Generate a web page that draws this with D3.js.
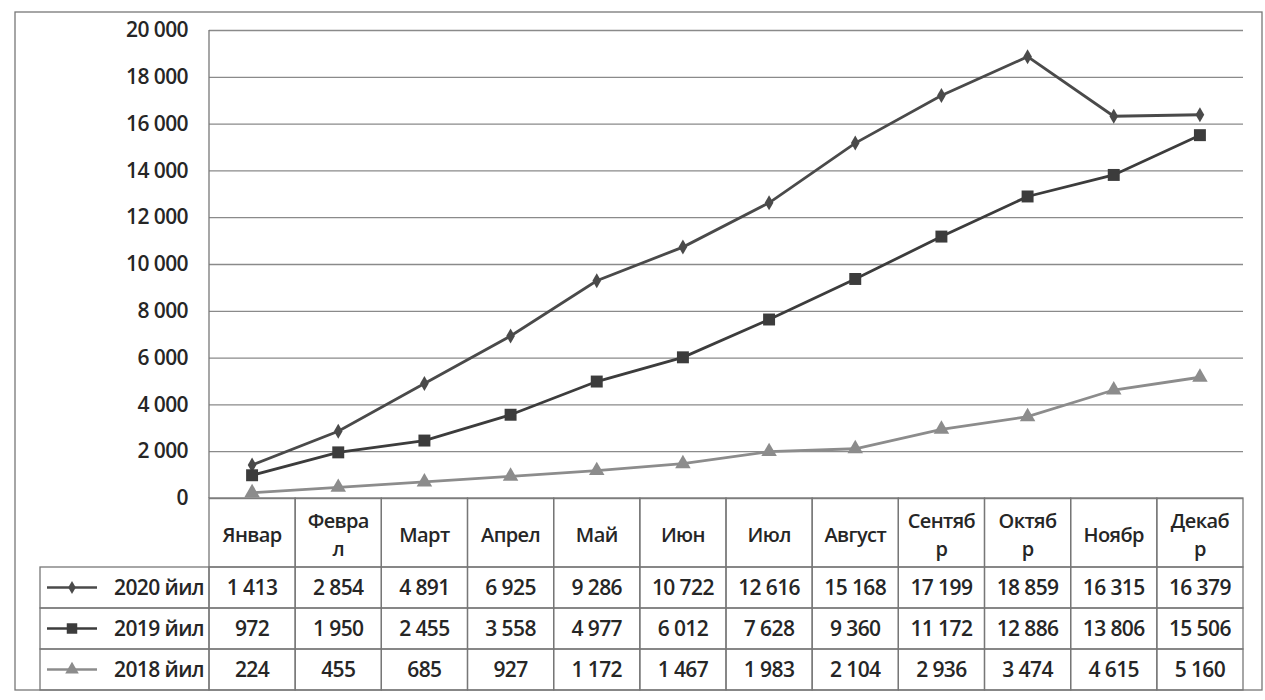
<!DOCTYPE html>
<html>
<head>
<meta charset="utf-8">
<script src="https://cdn.jsdelivr.net/npm/d3@7"></script>
<style>
  body { margin: 0; background: #fff; }
  svg { font-family: "Open Sans", sans-serif; }
  .grid line { stroke: #8a8a8a; stroke-width: 1.3; }
  .grid path { display: none; }
  .yaxis path, .yaxis line { display: none; }
  .yaxis text { font-family: "Open Sans", sans-serif; font-size: 21px; fill: #262626; letter-spacing: -0.6px; font-weight: 600; }
  .cell { fill: none; stroke: #777; stroke-width: 1.3; }
  .tbl text { font-size: 21px; fill: #262626; letter-spacing: -0.6px; font-weight: 600; }
  .tbl text.head { font-size: 20px; }
</style>
</head>
<body>
<svg width="1265" height="700"></svg>
<script>
// months as they appear in the table head (Excel wrapped them)
const months = ['Январ', 'Феврал', 'Март', 'Апрел', 'Май', 'Июн', 'Июл', 'Август', 'Сентябр', 'Октябр', 'Ноябр', 'Декабр'];
const headLines = [['Январ'], ['Февра', 'л'], ['Март'], ['Апрел'], ['Май'], ['Июн'], ['Июл'], ['Август'], ['Сентяб', 'р'], ['Октяб', 'р'], ['Ноябр'], ['Декаб', 'р']];

const seriesNames = ['2020 йил', '2019 йил', '2018 йил'];
const v2020 = [1413, 2854, 4891, 6925, 9286, 10722, 12616, 15168, 17199, 18859, 16315, 16379];
const v2019 = [972, 1950, 2455, 3558, 4977, 6012, 7628, 9360, 11172, 12886, 13806, 15506];
const v2018 = [224, 455, 685, 927, 1172, 1467, 1983, 2104, 2936, 3474, 4615, 5160];
const yTicks = [0, 2000, 4000, 6000, 8000, 10000, 12000, 14000, 16000, 18000, 20000];

const series = [
  { name: seriesNames[0], values: v2020, color: '#4a4a4a', marker: 'diamond' },
  { name: seriesNames[1], values: v2019, color: '#3c3c3c', marker: 'square' },
  { name: seriesNames[2], values: v2018, color: '#8c8c8c', marker: 'triangle' }
];

const loc = d3.formatLocale({ decimal: ',', thousands: '\u00a0', grouping: [3], currency: ['', ''] });
const fmt = loc.format(',d');

const svg = d3.select('svg');

const plotL = 209, plotR = 1243, plotT = 30, plotB = 498;
const headH = 69, rowH = 41;

const x = d3.scaleBand().domain(months).range([plotL, plotR]);
const y = d3.scaleLinear().domain([0, 20000]).range([plotB, plotT]);

// outer frame
svg.append('rect')
  .attr('x', 15).attr('y', 12)
  .attr('width', 1262 - 15).attr('height', 690 - 12)
  .attr('fill', 'none').attr('stroke', '#777').attr('stroke-width', 1.3);

// gridlines
svg.append('g')
  .attr('class', 'grid')
  .attr('transform', `translate(${plotL},0)`)
  .call(d3.axisLeft(y).tickValues(yTicks).tickSize(-(plotR - plotL)).tickFormat(''));

svg.append('line')
  .attr('x1', plotL).attr('x2', plotL).attr('y1', plotT).attr('y2', plotB)
  .attr('stroke', '#777').attr('stroke-width', 1.3);

svg.append('g')
  .attr('class', 'yaxis')
  .attr('transform', `translate(${plotL - 18},0)`)
  .call(d3.axisLeft(y).tickValues(yTicks).tickSize(0).tickFormat(fmt));

// markers
function drawMarker(g, type, color, size) {
  if (type === 'diamond') {
    g.append('path').attr('d', d3.symbol(d3.symbolDiamond, size * 5)()).attr('fill', color);
  } else if (type === 'square') {
    g.append('path').attr('d', d3.symbol(d3.symbolSquare, size * 11)()).attr('fill', color);
  } else {
    g.append('path').attr('d', d3.symbol(d3.symbolTriangle, size * 8)()).attr('fill', color);
  }
}

const line = d3.line()
  .x((d, i) => x(months[i]) + x.bandwidth() / 2)
  .y(d => y(d));

series.forEach(s => {
  svg.append('path')
    .datum(s.values)
    .attr('fill', 'none')
    .attr('stroke', s.color)
    .attr('stroke-width', 2.8)
    .attr('d', line);

  s.values.forEach((v, i) => {
    const g = svg.append('g')
      .attr('transform', `translate(${x(months[i]) + x.bandwidth() / 2},${y(v)})`);
    drawMarker(g, s.marker, s.color, 13);
  });
});

// data table
const tbl = svg.append('g').attr('class', 'tbl');

months.forEach((m, i) => {
  tbl.append('rect').attr('class', 'cell')
    .attr('x', x(m)).attr('y', plotB)
    .attr('width', x.bandwidth()).attr('height', headH);
  const lines = headLines[i];
  const cy = plotB + headH / 2 + 2;
  lines.forEach((t, j) => {
    tbl.append('text')
      .attr('class', 'head')
      .attr('x', x(m) + x.bandwidth() / 2)
      .attr('y', cy + (j - (lines.length - 1) / 2) * 28)
      .attr('dy', '0.35em')
      .attr('text-anchor', 'middle')
      .text(t);
  });
});

const legLeft = 40;
series.forEach((s, r) => {
  const ry = plotB + headH + r * rowH;
  tbl.append('rect').attr('class', 'cell')
    .attr('x', legLeft).attr('y', ry)
    .attr('width', plotL - legLeft).attr('height', rowH);
  tbl.append('line')
    .attr('x1', legLeft + 7).attr('x2', legLeft + 57)
    .attr('y1', ry + rowH / 2).attr('y2', ry + rowH / 2)
    .attr('stroke', s.color).attr('stroke-width', 2.4);
  const g = tbl.append('g').attr('transform', `translate(${legLeft + 32},${ry + rowH / 2})`);
  drawMarker(g, s.marker, s.color, 10);
  tbl.append('text')
    .attr('x', plotL - 5).attr('y', ry + rowH / 2).attr('dy', '0.35em')
    .attr('text-anchor', 'end')
    .text(s.name);

  s.values.forEach((v, i) => {
    tbl.append('rect').attr('class', 'cell')
      .attr('x', x(months[i])).attr('y', ry)
      .attr('width', x.bandwidth()).attr('height', rowH);
    tbl.append('text')
      .attr('x', x(months[i]) + x.bandwidth() / 2)
      .attr('y', ry + rowH / 2).attr('dy', '0.35em')
      .attr('text-anchor', 'middle')
      .text(fmt(v));
  });
});
</script>
</body>
</html>
